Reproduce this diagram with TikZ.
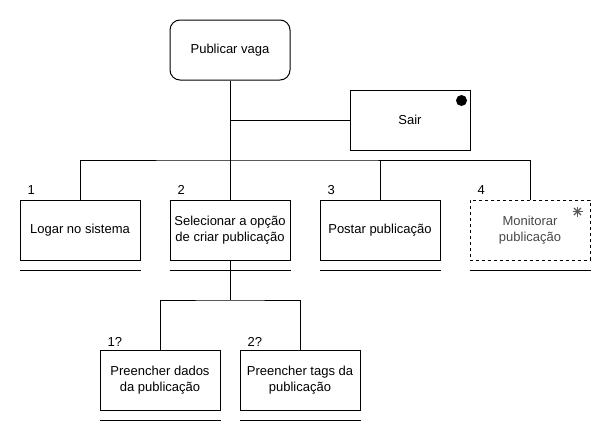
\documentclass[tikz,border=0pt]{standalone}
\usepackage{fontspec}
\setmainfont{Liberation Sans}
\usetikzlibrary{positioning,calc}

\begin{document}
\begin{tikzpicture}[
  x=1pt, y=-1pt,
  task/.style={draw, line width=1pt, minimum width=120pt, minimum height=60pt, align=center, inner sep=2pt, font=\fontsize{13}{16}\selectfont},
  goal/.style={task, rounded corners=10pt},
  optional/.style={task, dashed, text=black!72},
  num/.style={inner sep=0pt, font=\fontsize{13}{16}\selectfont},
  link/.style={line width=1pt}
]
  \useasboundingbox (0,0) rectangle (612,442);

  % top goal and exit
  \node[goal] (pub) at (230,50) {Publicar vaga};
  \node[task] (sair) at (410,120) {Sair};
  \fill ($(sair.north east)+(-9,11)$) circle (5.5);

  % first level
  \node[task] (log) at (80,230) {Logar no sistema};
  \node[task] (sel) at (230,230) {Selecionar a opção\\de criar publicação};
  \node[task] (pos) at (380,230) {Postar publicação};
  \node[optional] (mon) at (530,230) {Monitorar\\publicação};
  \foreach \a in {0,45,90,135}
    \draw[black!65, line width=1.2pt] ($(mon.north east)+(-13,12)$) +(\a:5) -- +(\a+180:5);

  \node[num, above right=5pt and 8pt of log.north west] {1};
  \node[num, above right=5pt and 8pt of sel.north west] {2};
  \node[num, above right=5pt and 8pt of pos.north west] {3};
  \node[num, above right=5pt and 8pt of mon.north west] {4};

  % second level
  \node[task] (dad) at (160,380) {Preencher dados\\da publicação};
  \node[task] (tag) at (300,380) {Preencher tags da\\publicação};
  \node[num, above right=3pt and 8pt of dad.north west] {1?};
  \node[num, above right=3pt and 8pt of tag.north west] {2?};

  % connectors
  \coordinate (bus) at (230,160);
  \coordinate (sub) at (230,300);
  \draw[link] (pub.south) -- (bus);
  \draw[link] (pub.south |- sair.west) -- (sair.west);
  \draw[link] (log.north) |- (bus) -| (mon.north);
  \draw[link] (sel.north) -- (bus);
  \draw[link] (pos.north) -- (pos.north |- bus);
  \draw[link] (sel.south) -- (sub);
  \draw[link] (dad.north) |- (sub) -| (tag.north);

  % plan lines under tasks
  \foreach \n in {log,sel,pos,mon,dad,tag}
    \draw[link] ([yshift=-10pt]\n.south west) -- ([yshift=-10pt]\n.south east);
\end{tikzpicture}
\end{document}
